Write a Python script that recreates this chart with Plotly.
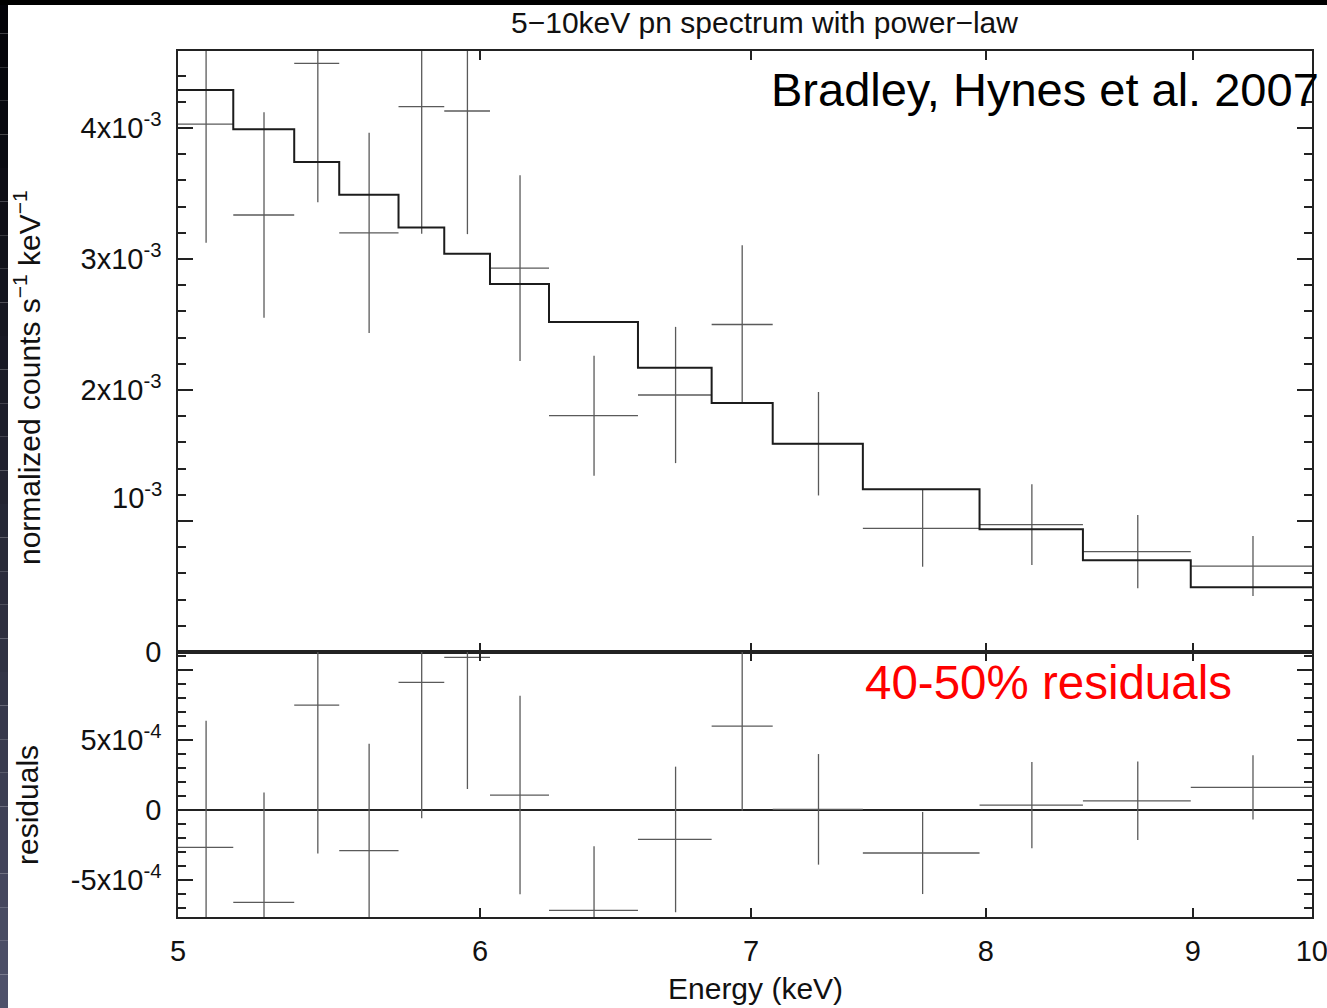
import math
import plotly.graph_objects as go

# ---------------- data ----------------
energy_lo = [5.05, 5.214, 5.398, 5.538, 5.728, 5.879, 6.034, 6.240, 6.564, 6.845,
             7.087, 7.460, 7.972, 8.455, 8.990]
energy_hi = [5.214, 5.398, 5.538, 5.728, 5.879, 6.034, 6.240, 6.564, 6.845, 7.087,
             7.460, 7.972, 8.455, 8.990, 9.649]
energy_mid = [5.134, 5.306, 5.471, 5.633, 5.804, 5.957, 6.138, 6.402, 6.706, 6.965,
              7.274, 7.718, 8.213, 8.723, 9.314]
counts = [4.03e-3, 3.336e-3, 4.494e-3, 3.20e-3, 4.163e-3, 4.13e-3, 2.93e-3, 1.804e-3,
          1.962e-3, 2.50e-3, 1.59e-3, 0.944e-3, 0.972e-3, 0.766e-3, 0.656e-3]
count_err = [0.905e-3, 0.785e-3, 1.06e-3, 0.764e-3, 0.97e-3, 0.94e-3, 0.709e-3, 0.458e-3,
             0.52e-3, 0.605e-3, 0.395e-3, 0.293e-3, 0.308e-3, 0.28e-3, 0.229e-3]
model = [4.29e-3, 3.99e-3, 3.74e-3, 3.49e-3, 3.24e-3, 3.04e-3, 2.81e-3, 2.52e-3,
         2.17e-3, 1.90e-3, 1.59e-3, 1.242e-3, 0.937e-3, 0.70e-3, 0.494e-3]
residuals = [-0.267e-3, -0.659e-3, 0.75e-3, -0.29e-3, 0.912e-3, 1.09e-3, 0.107e-3, -0.716e-3,
             -0.21e-3, 0.60e-3, 0.005e-3, -0.307e-3, 0.035e-3, 0.066e-3, 0.162e-3]

x_range = [5.0526, 9.632]
x_tick_vals = [5.0527, 6, 7, 8, 9, 9.631]
x_tick_text = ["5", "6", "7", "8", "9", "10"]

top_range = [-1e-9, 4.588e-3]
top_tick_vals = [0, 1e-3, 2e-3, 3e-3, 4e-3]
top_tick_text = ["0", "", "2x10<sup>-3</sup>", "3x10<sup>-3</sup>", "4x10<sup>-3</sup>"]

res_range = [-0.764e-3, 1.129e-3]
res_tick_vals = [-5e-4, 0, 5e-4, 1e-3]
res_tick_text = ["-5x10<sup>-4</sup>", "0", "5x10<sup>-4</sup>", ""]

# ---------------- layout geometry ----------------
W, H = 1327, 1008
PL, PR, PT, PB = 178, 1312, 51, 917
SPLIT = 652
FONT = "Liberation Sans, Arial, Helvetica, sans-serif"
FRAME = "#222222"
DATA_C = "#5a5a5a"
TICK_SIZE = 29
LABEL_SIZE = 30


def px_x(p):
    return (p - PL) / (PR - PL)


def px_y(p):
    return (PB - p) / (PB - PT)


frac = (PB - SPLIT) / (PB - PT)

xerr_plus = [h - m for h, m in zip(energy_hi, energy_mid)]
xerr_minus = [m - l for m, l in zip(energy_mid, energy_lo)]

fig = go.Figure()

fig.add_trace(go.Scatter(
    x=energy_mid, y=counts, mode="markers", xaxis="x", yaxis="y",
    marker=dict(size=0.1, color=DATA_C),
    error_x=dict(type="data", array=xerr_plus, arrayminus=xerr_minus, symmetric=False,
                 color=DATA_C, thickness=1.3, width=0),
    error_y=dict(type="data", array=count_err, color=DATA_C, thickness=1.3, width=0),
    showlegend=False, hoverinfo="skip"))

fig.add_trace(go.Scatter(
    x=energy_lo + [energy_hi[-1]], y=model + [model[-1]], mode="lines",
    line=dict(shape="hv", color="#1c1c1c", width=2), xaxis="x", yaxis="y",
    showlegend=False, hoverinfo="skip"))

fig.add_trace(go.Scatter(
    x=energy_mid, y=residuals, mode="markers", xaxis="x2", yaxis="y2",
    marker=dict(size=0.1, color=DATA_C),
    error_x=dict(type="data", array=xerr_plus, arrayminus=xerr_minus, symmetric=False,
                 color=DATA_C, thickness=1.3, width=0),
    error_y=dict(type="data", array=count_err, color=DATA_C, thickness=1.3, width=0),
    showlegend=False, hoverinfo="skip"))

x_common = dict(type="log", range=[math.log10(x_range[0]), math.log10(x_range[1])],
                tickmode="array", ticks="inside", ticklen=9, tickwidth=1.5,
                tickcolor=FRAME, showline=True, linecolor=FRAME, linewidth=1.5,
                mirror="allticks", showgrid=False, zeroline=False, domain=[0, 1],
                tickfont=dict(family=FONT, size=TICK_SIZE, color="#111"))

y_common = dict(tickmode="array", ticks="inside", ticklen=15, tickwidth=1.5,
                tickcolor=FRAME, showline=True, linecolor=FRAME, linewidth=1.5,
                mirror="allticks", showgrid=False, ticklabelstandoff=9,
                tickfont=dict(family=FONT, size=TICK_SIZE, color="#111"))

fig.update_layout(
    width=W, height=H, paper_bgcolor="white", plot_bgcolor="white",
    margin=dict(l=PL, r=W - PR, t=PT, b=H - PB, autoexpand=False),
    xaxis=dict(x_common, anchor="y", tickvals=[6, 7, 8, 9], showticklabels=False),
    xaxis2=dict(x_common, anchor="y2", tickvals=x_tick_vals, ticktext=x_tick_text,
                ticklabelstandoff=7, ticklabeloverflow="allow"),
    yaxis=dict(y_common, domain=[frac, 1], anchor="x", range=top_range,
               tickvals=top_tick_vals, ticktext=top_tick_text, zeroline=False,
               minor=dict(dtick=2e-4, tick0=0, ticklen=8, ticks="inside",
                          tickwidth=1.5, tickcolor=FRAME)),
    yaxis2=dict(y_common, domain=[0, frac], anchor="x2", range=res_range,
                tickvals=res_tick_vals, ticktext=res_tick_text,
                zeroline=True, zerolinecolor=FRAME, zerolinewidth=1.8,
                minor=dict(dtick=1e-4, tick0=0, ticklen=8, ticks="inside",
                           tickwidth=1.5, tickcolor=FRAME)),
)

ann = [
    dict(text="5\u221210keV pn spectrum with power\u2212law", x=px_x(764), y=px_y(22),
         xanchor="center", yanchor="middle", font=dict(family=FONT, size=LABEL_SIZE, color="#111")),
    dict(text="normalized counts s<sup>\u22121</sup> keV<sup>\u22121</sup>", x=px_x(27), y=px_y(378),
         textangle=-90, xanchor="center", yanchor="middle",
         font=dict(family=FONT, size=LABEL_SIZE, color="#111")),
    dict(text="residuals", x=px_x(27), y=px_y(805), textangle=-90,
         xanchor="center", yanchor="middle", font=dict(family=FONT, size=LABEL_SIZE, color="#111")),
    dict(text="Energy (keV)", x=px_x(755), y=px_y(988), xanchor="center", yanchor="middle",
         font=dict(family=FONT, size=LABEL_SIZE, color="#111")),
    dict(text="10<sup>-3</sup>", x=px_x(164), y=px_y(496), xanchor="right", yanchor="middle",
         font=dict(family=FONT, size=TICK_SIZE, color="#111")),
    dict(text="Bradley, Hynes et al. 2007", x=px_x(769), y=px_y(89), xanchor="left",
         yanchor="middle", font=dict(family=FONT, size=47, color="black")),
    dict(text="40-50% residuals", x=px_x(863), y=px_y(683), xanchor="left",
         yanchor="middle", font=dict(family=FONT, size=47.5, color="#ff0000")),
]
for a in ann:
    a.update(xref="paper", yref="paper", showarrow=False)
fig.update_layout(annotations=ann)

# slide border: dark left strip with a vertical gradient and a black top band
shapes = []
n = 30
for i in range(n):
    t = (i + 0.5) / n
    tt = t ** 1.2
    col = f"rgb({int(3 + 77 * tt)},{int(3 + 80 * tt)},{int(8 + 100 * tt)})"
    shapes.append(dict(type="rect", xref="paper", yref="paper",
                       x0=px_x(0), x1=px_x(8), y0=px_y(H * (i + 1) / n), y1=px_y(H * i / n),
                       fillcolor=col, line=dict(width=0), layer="above"))
shapes.append(dict(type="rect", xref="paper", yref="paper", x0=px_x(0), x1=px_x(W),
                   y0=px_y(5), y1=px_y(0), fillcolor="black", line=dict(width=0),
                   layer="above"))
fig.update_layout(shapes=shapes)

fig.write_html("out.html")
